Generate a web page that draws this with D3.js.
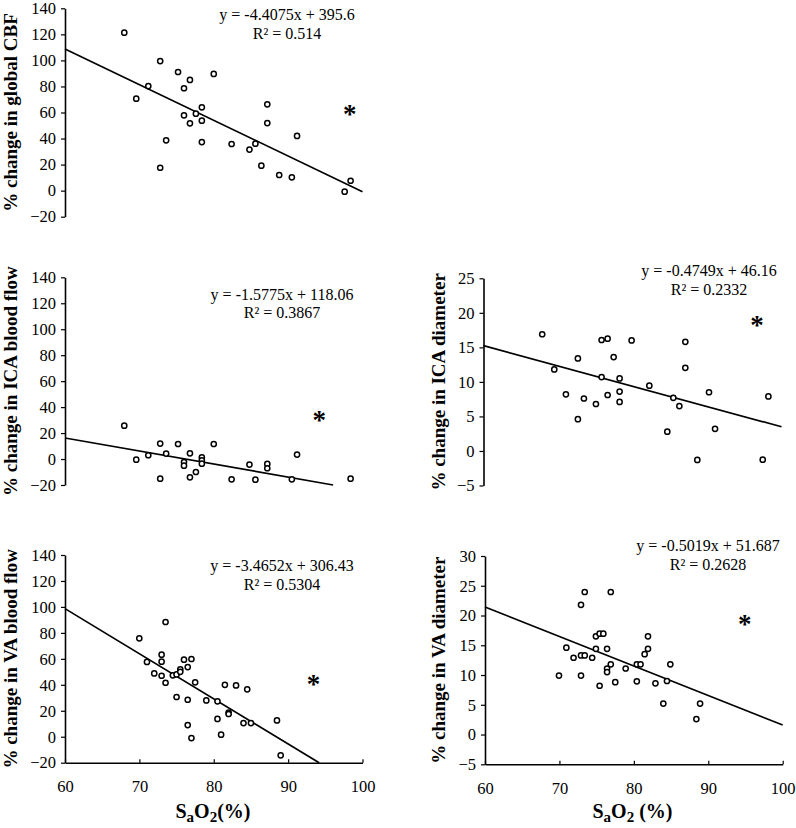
<!DOCTYPE html>
<html>
<head>
<meta charset="utf-8">
<script src="https://cdn.jsdelivr.net/npm/d3@7"></script>
<style>
  html, body { margin: 0; padding: 0; background: #fff; }
  svg { display: block; }
  text { font-family: "Liberation Serif", "Times New Roman", serif; fill: #000; }
</style>
</head>
<body>
<svg id="chart" width="796" height="828"></svg>
<script>
// ---------------- DATA ----------------
const xTicks = [60, 70, 80, 90, 100];
const xDomain = [60, 100];

// Global CBF
const cbfX = [67.97, 69.58, 71.2, 72.8, 72.8, 73.6, 75.2, 76.0, 76.0, 76.8, 76.8, 77.6, 78.4, 78.4, 78.4, 80.0, 82.4, 84.8, 85.6, 86.4, 87.2, 87.2, 88.8, 90.5, 91.2, 97.6, 98.4];
const cbfY = [121.3, 70.6, 80.3, 99.5, 17.6, 38.6, 91.1, 78.6, 57.8, 85, 51.7, 59.1, 64, 53.7, 37.3, 89.6, 35.8, 31.5, 36.1, 19.2, 66.3, 51.9, 12, 10.2, 42, -0.8, 7.6];
const cbfTrend = [[60, 108.8], [100, -0.8]];
const cbfStar = [98.3, 62];
const cbfEq = ["y = -4.4075x + 395.6", "R² = 0.514"];

// ICA blood flow
const icaFlowX = [67.97, 69.58, 71.2, 72.8, 72.8, 73.6, 75.2, 76.0, 76.0, 76.8, 76.8, 77.6, 78.4, 78.4, 78.4, 80.0, 82.4, 84.8, 85.6, 87.2, 87.2, 90.5, 91.2, 98.4];
const icaFlowY = [25.7, -0.5, 2.9, 11.9, -15.1, 4.2, 11.6, -2.3, -5.1, 4.4, -14.1, -10, 1.3, -1, -3.6, 11.6, -15.6, -4.3, -15.9, -3.8, -7.1, -15.6, 3.4, -15.1];
const icaFlowTrend = [[60, 16.2], [96.05, -20]];
const icaFlowStar = [94.2, 33.2];
const icaFlowEq = ["y = -1.5775x + 118.06", "R² = 0.3867"];

// ICA diameter
const icaDiamX = [67.88, 69.5, 71.06, 72.67, 72.67, 73.48, 75.09, 75.85, 75.85, 76.66, 76.66, 77.47, 78.27, 78.27, 78.27, 79.88, 82.26, 84.67, 85.48, 86.29, 87.09, 87.09, 88.7, 90.27, 91.08, 97.48, 98.24];
const icaDiamY = [16.9, 11.8, 8.2, 13.4, 4.6, 7.6, 6.8, 16.07, 10.7, 16.26, 8.1, 13.6, 10.5, 8.6, 7.1, 16.0, 9.45, 2.8, 7.7, 6.5, 15.8, 12.04, -1.3, 8.5, 3.2, -1.26, 7.9];
const icaDiamTrend = [[60, 15.25], [100, 3.5]];
const icaDiamStar = [96.7, 18.76];
const icaDiamEq = ["y = -0.4749x + 46.16", "R² = 0.2332"];

// VA blood flow
const vaFlowX = [69.99, 71.02, 72.0, 72.99, 72.99, 72.99, 73.52, 73.52, 74.5, 75.0, 75.0, 75.5, 75.5, 76.0, 76.5, 76.5, 76.5, 77.0, 77.0, 77.5, 79.0, 80.5, 80.5, 80.99, 81.5, 82.0, 82.0, 83.0, 84.0, 84.5, 85.0, 88.5, 89.0];
const vaFlowY = [75.8, 57.6, 48.8, 63.2, 57.8, 47, 88.4, 41.6, 47.3, 48, 30.6, 51.9, 50, 59.4, 53.7, 28.5, 9, 59.9, -1, 41.9, 28, 27.3, 13.7, 1.6, 40, 18.5, 17.5, 39.5, 10.5, 36.5, 10.5, 12.6, -14.3];
const vaFlowTrend = [[60, 98.7], [94.17, -20]];
const vaFlowStar = [93.4, 43.7];
const vaFlowEq = ["y = -3.4652x + 306.43", "R² = 0.5304"];

// VA diameter
const vaDiamX = [69.94, 70.93, 71.9, 72.9, 72.9, 72.9, 73.4, 73.4, 74.4, 74.9, 74.9, 75.4, 75.4, 75.9, 76.4, 76.4, 76.4, 76.9, 76.9, 77.5, 78.9, 80.4, 80.4, 80.9, 81.45, 81.9, 81.9, 82.9, 83.96, 84.45, 84.9, 88.4, 88.9];
const vaDiamY = [9.9, 14.6, 12.9, 21.8, 13.3, 9.9, 23.95, 13.3, 12.9, 16.5, 14.4, 16.95, 8.2, 16.95, 14.4, 11.1, 10.5, 23.95, 11.8, 8.8, 11.1, 11.8, 8.95, 11.8, 13.5, 16.5, 14.4, 8.6, 5.2, 9, 11.8, 2.6, 5.2];
const vaDiamTrend = [[60, 21.43], [100, 1.6]];
const vaDiamStar = [94.9, 19.25];
const vaDiamEq = ["y = -0.5019x + 51.687", "R² = 0.2628"];

// y-axis ticks
const flowTicks = [-20, 0, 20, 40, 60, 80, 100, 120, 140];
const icaDiamTicks = [-5, 0, 5, 10, 15, 20, 25];
const vaDiamTicks = [-5, 0, 5, 10, 15, 20, 25, 30];

// labels
const yLabels = ["% change in global CBF", "% change in ICA blood flow", "% change in ICA diameter", "% change in VA blood flow", "% change in VA diameter"];

// ---------------- LAYOUT ----------------
const panels = [
  { xs: cbfX, ys: cbfY, trend: cbfTrend, star: cbfStar, eq: cbfEq, ticks: flowTicks, label: yLabels[0],
    xr: [65, 362.5], yr: [216.7, 8.3], eqX: 287, eqY: 20, xAxis: false, labelX: 17 },
  { xs: icaFlowX, ys: icaFlowY, trend: icaFlowTrend, star: icaFlowStar, eq: icaFlowEq, ticks: flowTicks, label: yLabels[1],
    xr: [65, 362.5], yr: [485, 277.3], eqX: 282, eqY: 299.5, xAxis: false, labelX: 17 },
  { xs: icaDiamX, ys: icaDiamY, trend: icaDiamTrend, star: icaDiamStar, eq: icaDiamEq, ticks: icaDiamTicks, label: yLabels[2],
    xr: [483.5, 781.5], yr: [485.5, 278.3], eqX: 709, eqY: 276, xAxis: false, labelX: 445 },
  { xs: vaFlowX, ys: vaFlowY, trend: vaFlowTrend, star: vaFlowStar, eq: vaFlowEq, ticks: flowTicks, label: yLabels[3],
    xr: [65, 362.5], yr: [762.7, 555], eqX: 282, eqY: 571, xAxis: true, labelX: 17, xLabel: ["S", "a", "O", "2", "(%)"], xLabelX: 213 },
  { xs: vaDiamX, ys: vaDiamY, trend: vaDiamTrend, star: vaDiamStar, eq: vaDiamEq, ticks: vaDiamTicks, label: yLabels[4],
    xr: [485, 782.7], yr: [764.3, 556], eqX: 708, eqY: 551, xAxis: true, labelX: 445, xLabel: ["S", "a", "O", "2", " (%)"], xLabelX: 632.5 }
];

const svg = d3.select("#chart");

panels.forEach(p => {
  const x = d3.scaleLinear().domain(xDomain).range(p.xr);
  const y = d3.scaleLinear().domain(d3.extent(p.ticks)).range(p.yr);
  const g = svg.append("g");

  // y axis
  const yAxis = d3.axisLeft(y).tickValues(p.ticks).tickSize(4).tickPadding(5).tickSizeOuter(0);
  const ya = g.append("g").attr("transform", `translate(${x(60)},0)`).call(yAxis);
  ya.select(".domain").attr("stroke", "#000").attr("stroke-width", 1.6);
  ya.selectAll(".tick line").attr("stroke", "#000").attr("stroke-width", 1.2);
  ya.selectAll(".tick text").style("font-family", "Liberation Serif").style("font-size", "16.5px").attr("fill", "#000");

  // x axis
  if (p.xAxis) {
    const xAxis = d3.axisBottom(x).tickValues(xTicks).tickSize(0).tickPadding(18).tickSizeOuter(0);
    const xa = g.append("g").attr("transform", `translate(0,${y(p.ticks[0])})`).call(xAxis);
    xa.select(".domain").attr("stroke", "#000").attr("stroke-width", 1.6);
    xa.selectAll(".tick line").remove();
    xa.selectAll(".tick").append("line").attr("y1", 0).attr("y2", -3.5).attr("stroke", "#000").attr("stroke-width", 1.2);
    xa.selectAll(".tick text").style("font-family", "Liberation Serif").style("font-size", "16.5px").attr("fill", "#000");

    const t = g.append("text")
      .attr("x", p.xLabelX).attr("y", 818)
      .attr("text-anchor", "middle")
      .style("font-size", "20px").style("font-weight", "bold");
    p.xLabel.forEach((s, i) => {
      const ts = t.append("tspan").text(s);
      if (i === 1 || i === 3) ts.attr("dy", 4).style("font-size", "15px");
      if (i === 2 || i === 4) ts.attr("dy", -4);
    });
  }

  // y label
  g.append("text")
    .attr("transform", `translate(${p.labelX},${(p.yr[0] + p.yr[1]) / 2}) rotate(-90)`)
    .attr("text-anchor", "middle")
    .style("font-size", "19px").style("font-weight", "bold")
    .text(p.label);

  // trend line
  g.append("line")
    .attr("x1", x(p.trend[0][0])).attr("y1", y(p.trend[0][1]))
    .attr("x2", x(p.trend[1][0])).attr("y2", y(p.trend[1][1]))
    .attr("stroke", "#000").attr("stroke-width", 1.7);

  // points
  g.selectAll("circle.pt").data(p.xs.map((v, i) => [v, p.ys[i]])).enter()
    .append("circle").attr("class", "pt")
    .attr("cx", d => x(d[0])).attr("cy", d => y(d[1]))
    .attr("r", 2.6).attr("fill", "#fff").attr("stroke", "#000").attr("stroke-width", 1.5);

  // asterisk
  g.append("text")
    .attr("x", x(p.star[0])).attr("y", y(p.star[1]) + 13)
    .attr("text-anchor", "middle")
    .style("font-size", "27px").style("font-weight", "bold")
    .text("*");

  // equation
  g.append("text").attr("x", p.eqX).attr("y", p.eqY).attr("text-anchor", "middle")
    .style("font-size", "16px").text(p.eq[0]);
  g.append("text").attr("x", p.eqX).attr("y", p.eqY + 18.5).attr("text-anchor", "middle")
    .style("font-size", "16px").text(p.eq[1]);
});
</script>
</body>
</html>
